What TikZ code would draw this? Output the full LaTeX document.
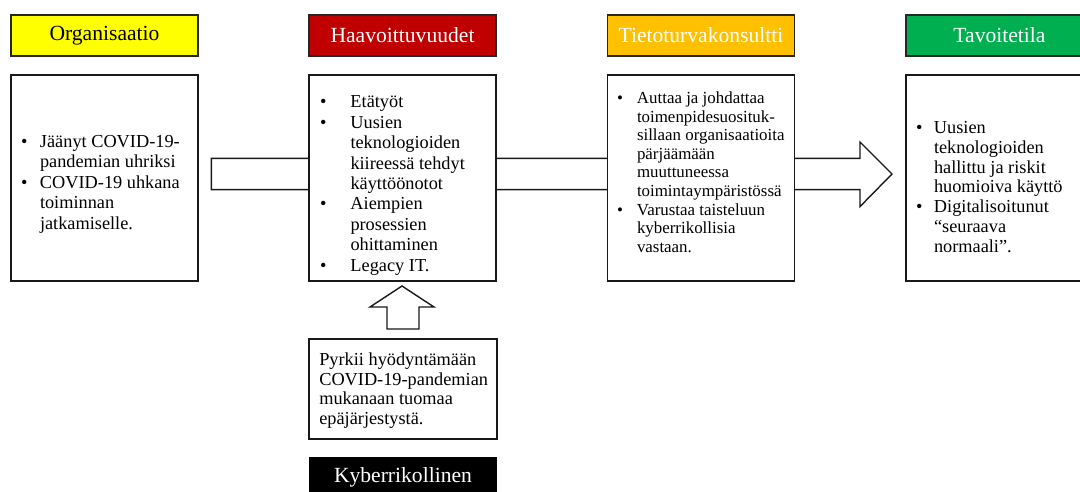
\documentclass[tikz,border=0pt]{standalone}
\usepackage{fontspec}
\setmainfont{Liberation Serif}
\definecolor{cyel}{HTML}{FFFF00}
\definecolor{cred}{HTML}{C00000}
\definecolor{corg}{HTML}{FFC000}
\definecolor{cgrn}{HTML}{00B050}
\newlength\bxo
\newlength\txo
\newcommand{\itm}{\par\noindent\hangindent=\txo\hangafter=1\hspace*{\bxo}\makebox[\dimexpr\txo-\bxo\relax][l]{\textbullet}}
\begin{document}
\begin{tikzpicture}[x=1pt,y=-1pt,
  hdr/.style={draw=black!85, line width=1.4pt, minimum width=187pt, minimum height=41pt, inner sep=0pt, font=\fontsize{21.6}{25}\selectfont},
  body/.style={draw=black!90, fill=white, line width=1.4pt, minimum width=187pt, minimum height=206pt, inner sep=0pt},
  txt/.style={anchor=base west, inner sep=0pt, outer sep=0pt},
  blockarrow/.style={draw=black!90, fill=white, line width=1.4pt, line join=miter}]
\path[use as bounding box] (0,0) rectangle (1080,492);
\clip (0,0) rectangle (1080,492);

% headers
\node[hdr, fill=cyel] (h1) at (104.5,35.5) {Organisaatio};
\node[hdr, fill=cred, text=white] (h2) at (402.5,35.5) {Haavoittuvuudet};
\node[hdr, fill=corg, text=white] (h3) at (701,35.5) {Tietoturvakonsultti};
\node[hdr, fill=cgrn, text=white] (h4) at (999.5,35.5) {Tavoitetila};

% big arrow behind body boxes
\coordinate (a1) at (211.4,158.4);
\coordinate (a2) at (860,158.4);
\coordinate (a3) at (860,142);
\coordinate (tip) at (892,174);
\coordinate (a5) at (860,206.6);
\coordinate (a6) at (860,189.7);
\coordinate (a7) at (211.4,189.7);
\draw[blockarrow] (a1) -- (a2) -- (a3) -- (tip) -- (a5) -- (a6) -- (a7) -- cycle;

% body boxes
\node[body] (b1) at (104.5,178) {};
\node[body] (b2) at (402.5,178) {};
\node[body] (b3) at (701,178) {};
\node[body] (b4) at (999.5,178) {};

% up arrow
\coordinate (u0) at (402,286);
\draw[blockarrow] (u0) -- (434,307) -- (419,307) -- (419,329) -- (387,329) -- (387,307) -- (370,307) -- cycle;

% cyber criminal boxes
\node[draw=black!90, line width=1.4pt, minimum width=188pt, minimum height=100pt, inner sep=0pt] (c1) at (403,389) {};
\node[fill=black, text=white, minimum width=188pt, minimum height=41pt, inner sep=0pt, font=\fontsize{21.6}{25}\selectfont] (c2) at (403,477.5) {Kyberrikollinen};

% texts
\node[txt] (t1) at (11,147.5) {\parbox[t]{220pt}{\fontsize{18.3}{20.5}\selectfont\raggedright\setlength\bxo{10pt}\setlength\txo{29pt}%
\itm Jäänyt COVID-19-\newline pandemian uhriksi
\itm COVID-19 uhkana\newline toiminnan\newline jatkamiselle.}};

\node[txt] (t2) at (309,108) {\parbox[t]{220pt}{\fontsize{18.3}{20.4}\selectfont\raggedright\setlength\bxo{11pt}\setlength\txo{41.5pt}%
\itm Etätyöt
\itm Uusien\newline teknologioiden\newline kiireessä tehdyt\newline käyttöönotot
\itm Aiempien\newline prosessien\newline ohittaminen
\itm Legacy IT.}};

\node[txt] (t3) at (607,103.5) {\parbox[t]{220pt}{\fontsize{16.9}{18.6}\selectfont\raggedright\setlength\bxo{10pt}\setlength\txo{30pt}%
\itm Auttaa ja johdattaa\newline toimenpidesuosituk-\newline sillaan organisaatioita\newline pärjäämään\newline muuttuneessa\newline toimintaympäristössä
\itm Varustaa taisteluun\newline kyberrikollisia\newline vastaan.}};

\node[txt] (t4) at (906,133.5) {\parbox[t]{220pt}{\fontsize{18.3}{19.8}\selectfont\raggedright\setlength\bxo{10pt}\setlength\txo{28pt}%
\itm Uusien\newline teknologioiden\newline hallittu ja riskit\newline huomioiva käyttö
\itm Digitalisoitunut\newline “seuraava\newline normaali”.}};

\node[txt] (t5) at (319.3,365.5) {\parbox[t]{220pt}{\fontsize{18.3}{19.7}\selectfont\raggedright
Pyrkii hyödyntämään\newline COVID-19-pandemian\newline mukanaan tuomaa\newline epäjärjestystä.}};
\end{tikzpicture}
\end{document}
